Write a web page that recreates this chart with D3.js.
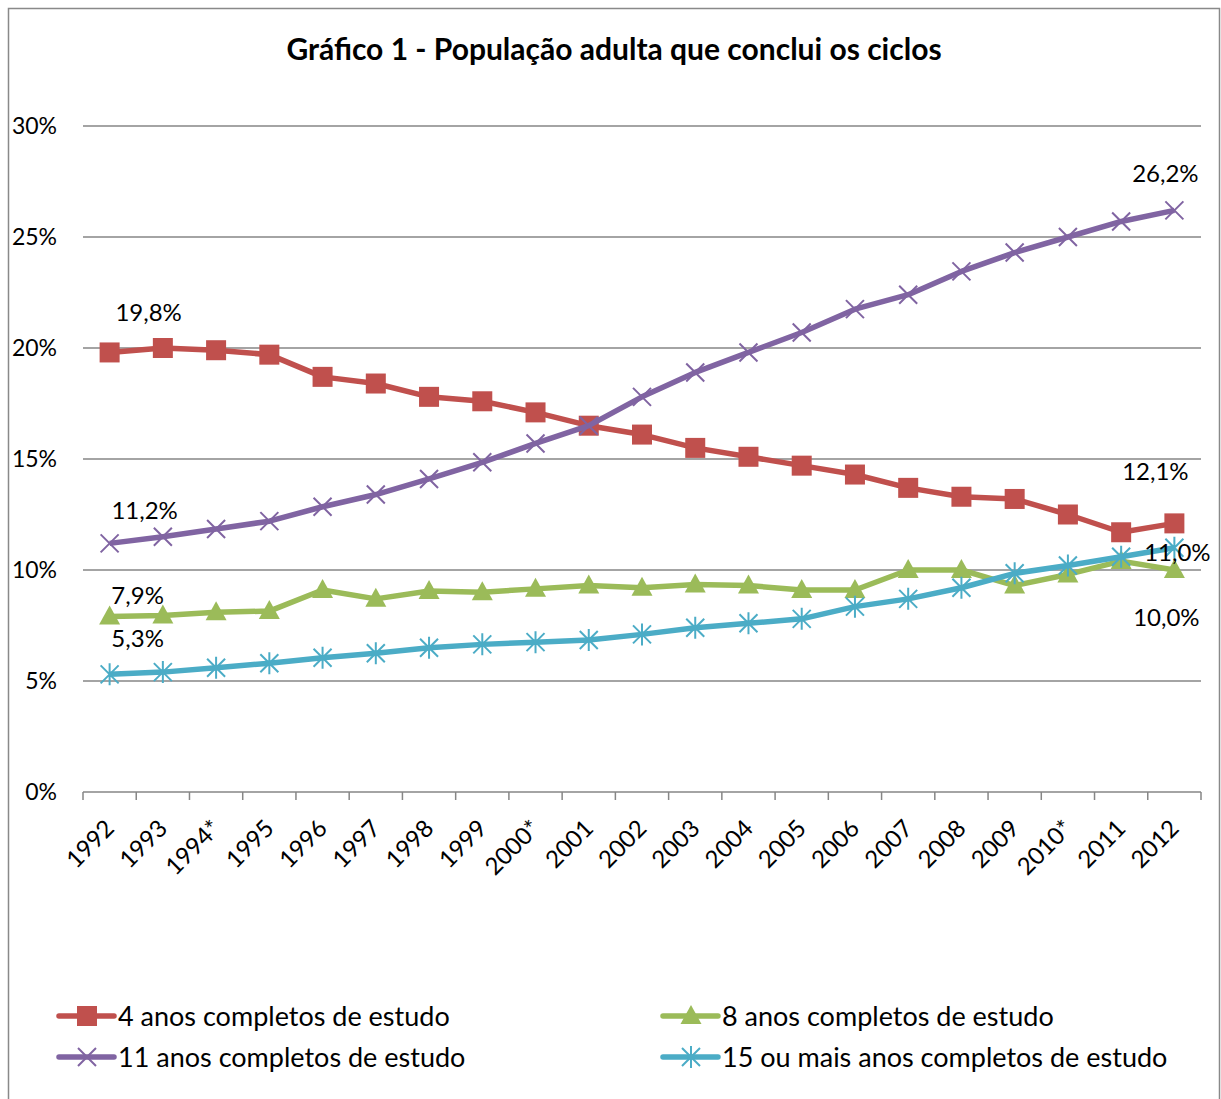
<!DOCTYPE html>
<html>
<head>
<meta charset="utf-8">
<script src="https://cdn.jsdelivr.net/npm/d3@7"></script>
<style>
  body { margin: 0; background: #fff; }
  text { font-family: Lato, "Open Sans", sans-serif; fill: #000; }
</style>
</head>
<body>
<div id="chart"></div>
<script>
// chart data
var years = ['1992', '1993', '1994*', '1995', '1996', '1997', '1998', '1999', '2000*', '2001', '2002',
  '2003', '2004', '2005', '2006', '2007', '2008', '2009', '2010*', '2011', '2012'];

var seriesNames = ['4 anos completos de estudo', '8 anos completos de estudo',
  '11 anos completos de estudo', '15 ou mais anos completos de estudo'];

var anos4 = [19.8, 20.0, 19.9, 19.7, 18.7, 18.4, 17.8, 17.6, 17.1, 16.5, 16.1,
  15.5, 15.1, 14.7, 14.3, 13.7, 13.3, 13.2, 12.5, 11.7, 12.1];
var anos8 = [7.9, 7.95, 8.1, 8.15, 9.1, 8.7, 9.05, 9.0, 9.15, 9.3, 9.2,
  9.35, 9.3, 9.1, 9.1, 10.0, 10.0, 9.3, 9.8, 10.4, 10.0];
var anos11 = [11.2, 11.5, 11.85, 12.2, 12.85, 13.4, 14.1, 14.85, 15.7, 16.5, 17.8,
  18.9, 19.8, 20.7, 21.75, 22.4, 23.45, 24.3, 25.0, 25.7, 26.2];
var anos15 = [5.3, 5.4, 5.6, 5.8, 6.05, 6.25, 6.5, 6.65, 6.75, 6.85, 7.1,
  7.4, 7.6, 7.8, 8.35, 8.7, 9.2, 9.85, 10.2, 10.6, 11.0];

var yTicks = [0, 5, 10, 15, 20, 25, 30];

var width = 1221,
  height = 1099;

var colors = ['#C0504D', '#9BBB59', '#8064A2', '#4BACC6'];
var markers = ['square', 'triangle', 'cross', 'star'];
var allSeries = [anos4, anos8, anos11, anos15];

// where the first / last value labels sit, relative to their point
var labelOffsets = [
  { first: [39, -31], last: [-19, -43] },
  { first: [28, -13], last: [-8, 56] },
  { first: [35, -24], last: [-9, -28] },
  { first: [28, -27], last: [3, 13] }
];

var svg = d3.select('#chart').append('svg')
  .attr('width', width)
  .attr('height', height);

// outer frame
svg.append('rect')
  .attr('x', 8.5)
  .attr('y', 8.5)
  .attr('width', 1211)
  .attr('height', 1100)
  .attr('fill', 'none')
  .attr('stroke', '#898989')
  .attr('stroke-width', 1.5);

svg.append('text')
  .attr('x', 614)
  .attr('y', 60)
  .attr('text-anchor', 'middle')
  .style('font-size', '30px')
  .style('font-weight', 'bold')
  .text('Gráfico 1 - População adulta que conclui os ciclos');

var x = d3.scaleBand()
  .domain(years)
  .range([83, 1201])
  .padding(0);

var y = d3.scaleLinear()
  .domain([0, 30])
  .range([792, 126]);

// gridlines
svg.append('g')
  .selectAll('line')
  .data(yTicks.filter(function(d) { return d > 0; }))
  .enter().append('line')
  .attr('x1', 83)
  .attr('x2', 1201)
  .attr('y1', function(d) { return y(d); })
  .attr('y2', function(d) { return y(d); })
  .attr('stroke', '#868686')
  .attr('stroke-width', 1.5);

svg.append('g')
  .selectAll('text')
  .data(yTicks)
  .enter().append('text')
  .attr('x', 57)
  .attr('y', function(d) { return y(d); })
  .attr('dy', '0.36em')
  .attr('text-anchor', 'end')
  .style('font-size', '23px')
  .text(function(d) { return d + '%'; });

// x axis: line plus ticks between categories
var xAxis = svg.append('g');

xAxis.append('line')
  .attr('x1', 83)
  .attr('x2', 1201)
  .attr('y1', y(0))
  .attr('y2', y(0))
  .attr('stroke', '#868686')
  .attr('stroke-width', 1.5);

var tickPositions = years.map(function(d) { return x(d); }).concat([x(years[years.length - 1]) + x.bandwidth()]);

xAxis.selectAll('.tick')
  .data(tickPositions)
  .enter().append('line')
  .attr('class', 'tick')
  .attr('x1', function(d) { return d; })
  .attr('x2', function(d) { return d; })
  .attr('y1', y(0))
  .attr('y2', y(0) + 8)
  .attr('stroke', '#868686')
  .attr('stroke-width', 1.5);

xAxis.selectAll('.year')
  .data(years)
  .enter().append('text')
  .attr('class', 'year')
  .attr('text-anchor', 'end')
  .attr('transform', function(d) {
    return 'translate(' + (x(d) + x.bandwidth() / 2 + 6) + ',' + 830 + ') rotate(-45)';
  })
  .style('font-size', '24px')
  .text(function(d) { return d; });

function cx(i) {
  return x(years[i]) + x.bandwidth() / 2;
}

function drawMarker(g, kind, color) {
  if (kind === 'square') {
    g.append('rect')
      .attr('x', -10).attr('y', -10)
      .attr('width', 20).attr('height', 20)
      .attr('fill', color);
  } else if (kind === 'triangle') {
    g.append('path')
      .attr('d', 'M0,-11L10.5,8L-10.5,8Z')
      .attr('fill', color);
  } else if (kind === 'cross') {
    g.append('path')
      .attr('d', 'M-9,-9L9,9M-9,9L9,-9')
      .attr('stroke', color)
      .attr('stroke-width', 2);
  } else {
    g.append('path')
      .attr('d', 'M-9,-9L9,9M-9,9L9,-9M0,-11L0,11')
      .attr('stroke', color)
      .attr('stroke-width', 2);
  }
}

var line = d3.line()
  .x(function(d, i) { return cx(i); })
  .y(function(d) { return y(d); });

allSeries.forEach(function(values, s) {
  var g = svg.append('g');

  g.append('path')
    .datum(values)
    .attr('d', line)
    .attr('fill', 'none')
    .attr('stroke', colors[s])
    .attr('stroke-width', 5.5)
    .attr('stroke-linejoin', 'round');

  g.selectAll('.marker')
    .data(values)
    .enter().append('g')
    .attr('class', 'marker')
    .attr('transform', function(d, i) { return 'translate(' + cx(i) + ',' + y(d) + ')'; })
    .each(function() { drawMarker(d3.select(this), markers[s], colors[s]); });
});

// first and last value labels
allSeries.forEach(function(values, s) {
  var ends = [
    { i: 0, off: labelOffsets[s].first },
    { i: values.length - 1, off: labelOffsets[s].last }
  ];
  ends.forEach(function(e) {
    svg.append('text')
      .attr('x', cx(e.i) + e.off[0])
      .attr('y', y(values[e.i]) + e.off[1])
      .attr('text-anchor', 'middle')
      .style('font-size', '24px')
      .text(values[e.i].toFixed(1).replace('.', ',') + '%');
  });
});

// legend, two columns
var legendX = [59, 663];
var legendY = [1016, 1057];

seriesNames.forEach(function(name, s) {
  var lx = legendX[s % 2];
  var ly = legendY[Math.floor(s / 2)];
  var g = svg.append('g');

  g.append('line')
    .attr('x1', lx)
    .attr('x2', lx + 55)
    .attr('y1', ly)
    .attr('y2', ly)
    .attr('stroke', colors[s])
    .attr('stroke-width', 5.5)
    .attr('stroke-linecap', 'round');

  var m = g.append('g')
    .attr('transform', 'translate(' + (lx + 28) + ',' + ly + ')');
  drawMarker(m, markers[s], colors[s]);

  g.append('text')
    .attr('x', lx + 59)
    .attr('y', ly)
    .attr('dy', '0.36em')
    .style('font-size', '27px')
    .text(name);
});
</script>
</body>
</html>
